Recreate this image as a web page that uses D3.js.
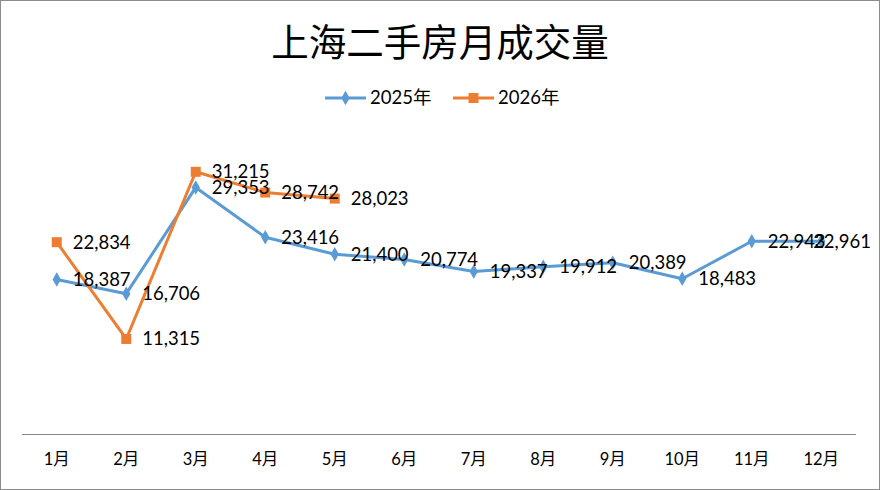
<!DOCTYPE html>
<html>
<head>
<meta charset="utf-8">
<script src="https://cdn.jsdelivr.net/npm/d3@7"></script>
<style>
  body { margin: 0; background: #fff; }
  svg { display: block; font-family: Lato, "Noto Sans CJK SC", sans-serif; }
</style>
</head>
<body>
<svg id="chart" width="880" height="490"></svg>
<script>
const months = ["1月", "2月", "3月", "4月", "5月", "6月", "7月", "8月", "9月", "10月", "11月", "12月"];
const values2025 = [18387, 16706, 29353, 23416, 21400, 20774, 19337, 19912, 20389, 18483, 22943, 22961];
const values2026 = [22834, 11315, 31215, 28742, 28023];
const seriesNames = ["2025年", "2026年"];
const colors = ["#5b9bd5", "#ed7d31"];

const svg = d3.select("#chart");

// outer frame
svg.append("rect")
  .attr("x", 0.5).attr("y", 0.5)
  .attr("width", 879).attr("height", 489)
  .attr("fill", "#fff")
  .attr("stroke", "#8c8c8c");

svg.append("text")
  .attr("x", 440).attr("y", 56)
  .attr("text-anchor", "middle")
  .attr("font-family", "'Noto Sans CJK SC', sans-serif")
  .attr("font-size", 37.5)
  .attr("fill", "#000")
  .text("上海二手房月成交量");

const x = d3.scaleBand()
  .domain(months)
  .range([22, 856]);

const y = d3.scaleLinear()
  .domain([0, 35000])
  .range([434, 140]);

// baseline
svg.append("line")
  .attr("x1", 22).attr("x2", 856)
  .attr("y1", y(0) + 0.5).attr("y2", y(0) + 0.5)
  .attr("stroke", "#868686");

const xAxis = d3.axisBottom(x).tickSize(0).tickPadding(19);
svg.append("g")
  .attr("transform", `translate(0,${y(0)})`)
  .call(xAxis)
  .call(g => g.select(".domain").remove())
  .selectAll("text")
  .attr("font-size", 16.5)
  .attr("font-family", "Lato, 'Noto Sans CJK SC', sans-serif")
  .attr("fill", "#000");

const line = d3.line()
  .x((d, i) => x(months[i]) + x.bandwidth() / 2)
  .y(d => y(d));

const series = [values2025, values2026];
const markers = [d3.symbolDiamond, d3.symbolSquare];
const markerSizes = [60, 100];

series.forEach((vals, s) => {
  svg.append("path")
    .datum(vals)
    .attr("fill", "none")
    .attr("stroke", colors[s])
    .attr("stroke-width", 3)
    .attr("stroke-linejoin", "round")
    .attr("d", line);

  svg.append("g")
    .selectAll("path")
    .data(vals)
    .join("path")
    .attr("transform", (d, i) => `translate(${x(months[i]) + x.bandwidth() / 2},${y(d)})`)
    .attr("d", d3.symbol(markers[s], markerSizes[s]))
    .attr("fill", colors[s]);
});

// data labels, kept inside the chart area like Excel does
const labelRight = 871;
series.forEach((vals) => {
  svg.append("g")
    .selectAll("text")
    .data(vals)
    .join("text")
    .attr("x", (d, i) => x(months[i]) + x.bandwidth() / 2 + 16)
    .attr("y", d => y(d))
    .attr("dy", "0.35em")
    .attr("font-size", 18.5)
    .attr("fill", "#000")
    .text(d => d3.format(",")(d))
    .each(function() {
      const w = this.getComputedTextLength();
      const x0 = +this.getAttribute("x");
      if (x0 + w > labelRight) this.setAttribute("x", labelRight - w);
    });
});

// legend
const legend = svg.append("g").attr("transform", "translate(325,98)");
const legendX = [0, 128];
seriesNames.forEach((name, s) => {
  const g = legend.append("g").attr("transform", `translate(${legendX[s]},0)`);
  g.append("line")
    .attr("x1", 0).attr("x2", 41)
    .attr("stroke", colors[s]).attr("stroke-width", 3);
  g.append("path")
    .attr("transform", "translate(20.5,0)")
    .attr("d", d3.symbol(markers[s], markerSizes[s])())
    .attr("fill", colors[s]);
  g.append("text")
    .attr("x", 45).attr("dy", "0.35em")
    .attr("font-size", 18.5)
    .attr("fill", "#000")
    .text(name);
});
</script>
</body>
</html>
